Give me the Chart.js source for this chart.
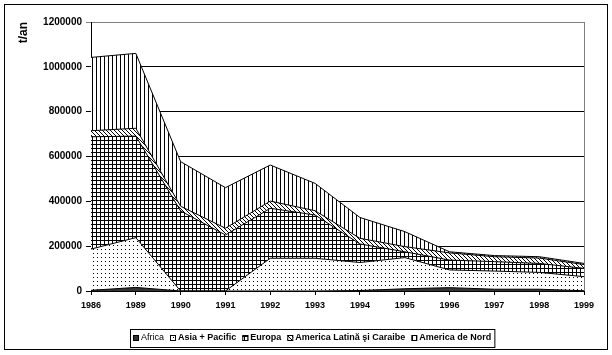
<!DOCTYPE html>
<html>
<head>
<meta charset="utf-8">
<script src="https://cdn.jsdelivr.net/npm/chart.js@4.4.0/dist/chart.umd.min.js"></script>
<style>
    html, body { margin: 0; padding: 0; background: #fff; }
</style>
</head>
<body>
<canvas id="chart" width="612" height="355"></canvas>
<script>
// Data (t/an)
const years = ['1986', '1989', '1990', '1991', '1992', '1993', '1994', '1995', '1996', '1997', '1998', '1999'];
const africa = [3000, 16000, 0, 0, 0, 0, 2000, 10000, 15000, 8000, 8000, 1000];
const asiaPacific = [184000, 222000, 0, 0, 146000, 146000, 125000, 139000, 79000, 81000, 75000, 63000];
const europa = [501000, 453000, 357000, 250000, 223000, 193000, 83000, 26000, 44000, 42000, 40000, 37000];
const americaLatina = [27000, 35000, 21000, 30000, 32000, 19000, 25000, 23000, 32000, 22000, 24000, 17000];
const americaNord = [327000, 334000, 199000, 181000, 161000, 122000, 93000, 67000, 5000, 5000, 6000, 5000];
const yMax = 1200000;
const yStep = 200000;

const FONT = '"Liberation Sans", Arial, sans-serif';

document.addEventListener('DOMContentLoaded', function () {
    const canvas = document.getElementById('chart');
    const ctx = canvas.getContext('2d');

    // small tile patterns, like the old Excel fills
    function makePattern(size, draw) {
        const tile = document.createElement('canvas');
        tile.width = size;
        tile.height = size;
        const g = tile.getContext('2d');
        g.fillStyle = '#fff';
        g.fillRect(0, 0, size, size);
        g.fillStyle = '#000';
        draw(g, size);
        return ctx.createPattern(tile, 'repeat');
    }

    const dots = makePattern(4, g => g.fillRect(1, 1, 1, 1));
    const grid = makePattern(4, g => { g.fillRect(0, 0, 4, 1); g.fillRect(0, 0, 1, 4); });
    const diagonal = makePattern(4, (g, s) => { for (let i = 0; i < s; i++) g.fillRect(i, i, 1, 1); });
    const vertical = makePattern(4, g => g.fillRect(0, 0, 1, 4));

    function area(label, data, fill, first) {
        return {
            label: label,
            data: data,
            backgroundColor: fill,
            borderColor: '#000',
            borderWidth: 1,
            fill: first ? 'origin' : '-1',
            pointRadius: 0,
            tension: 0
        };
    }

    // frame, gray right border and the boxed legend
    const frameAndLegend = {
        id: 'frameAndLegend',
        afterDraw(chart) {
            const c = chart.ctx;
            const a = chart.chartArea;
            c.save();
            c.lineWidth = 1;
            c.strokeStyle = '#000';
            c.strokeRect(4.5, 4.5, 603, 345);

            c.strokeStyle = '#808080';
            c.beginPath();
            c.moveTo(a.right + 0.5, a.top);
            c.lineTo(a.right + 0.5, a.bottom);
            c.stroke();

            const items = chart.data.datasets.map((ds, i) => {
                const font = i === 0 ? '9px ' + FONT : 'bold 9px ' + FONT;
                c.font = font;
                return { ds: ds, font: font, w: c.measureText(ds.label).width };
            });
            const sym = 6, textOff = 8, gap = 6;
            let total = 0;
            items.forEach((it, i) => { total += textOff + it.w + (i < items.length - 1 ? gap : 0); });
            let x = Math.round(312 - total / 2);
            const yMid = 338;

            c.strokeStyle = '#000';
            c.strokeRect(x - 2.5, 329.5, total + 6, 18);

            items.forEach(it => {
                c.fillStyle = it.ds.backgroundColor;
                c.fillRect(x, yMid - 3, sym, sym);
                c.strokeRect(x + 0.5, yMid - 2.5, sym - 1, sym - 1);
                c.fillStyle = '#000';
                c.font = it.font;
                c.textBaseline = 'middle';
                c.fillText(it.ds.label, x + textOff, yMid);
                x += textOff + it.w + gap;
            });
            c.restore();
        }
    };

    new Chart(canvas, {
        type: 'line',
        data: {
            labels: years,
            datasets: [
                area('Africa', africa, '#333333', true),
                area('Asia + Pacific', asiaPacific, dots),
                area('Europa', europa, grid),
                area('America Latină şi Caraibe', americaLatina, diagonal),
                area('America de Nord', americaNord, vertical)
            ]
        },
        options: {
            responsive: false,
            animation: false,
            layout: {
                padding: { left: 10, right: 28, top: 22, bottom: 40 }
            },
            scales: {
                x: {
                    offset: false,
                    afterFit: function (scale) { scale.height = 24; },
                    grid: {
                        drawOnChartArea: false,
                        color: '#000',
                        tickLength: 4
                    },
                    border: { color: '#000', width: 1 },
                    ticks: {
                        color: '#000',
                        autoSkip: false,
                        maxRotation: 0,
                        padding: 5,
                        font: { family: FONT, size: 9, weight: 'bold' }
                    }
                },
                y: {
                    stacked: true,
                    min: 0,
                    max: yMax,
                    afterFit: function (scale) { scale.width = 81; },
                    grid: {
                        color: function (context) {
                            return context.tick && context.tick.value === yMax ? '#808080' : '#000';
                        },
                        tickLength: 5
                    },
                    border: { color: '#000', width: 1 },
                    ticks: {
                        stepSize: yStep,
                        color: '#000',
                        padding: 4,
                        font: { family: FONT, size: 10, weight: 'bold' },
                        callback: function (value) {
                            return String(value);
                        }
                    },
                    title: {
                        display: true,
                        text: 't/an',
                        align: 'end',
                        color: '#000',
                        padding: { top: 6, bottom: 0 },
                        font: { family: FONT, size: 12, weight: 'bold' }
                    }
                }
            },
            plugins: {
                legend: { display: false },
                tooltip: { enabled: false }
            }
        },
        plugins: [frameAndLegend]
    });
});
</script>
</body>
</html>
